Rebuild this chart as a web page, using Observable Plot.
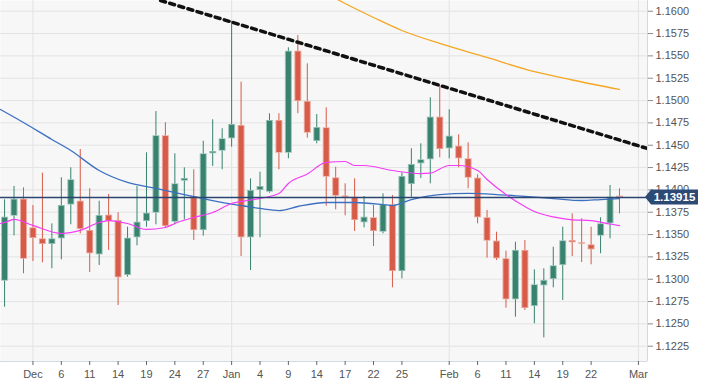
<!DOCTYPE html>
<html><head><meta charset="utf-8">
<script src="https://cdn.jsdelivr.net/npm/d3@7"></script>
<script src="https://cdn.jsdelivr.net/npm/@observablehq/plot@0.6"></script>
<style>
html,body{margin:0;padding:0;background:#fff;}
#chart{width:703px;height:388px;overflow:hidden;}
</style></head><body><div id="chart"></div>
<script>
// Trading days (EUR/USD daily candles)
const dates = [
 "2018-11-28","2018-11-29","2018-11-30","2018-12-03","2018-12-04","2018-12-05","2018-12-06","2018-12-07","2018-12-10","2018-12-11",
 "2018-12-12","2018-12-13","2018-12-14","2018-12-17","2018-12-18","2018-12-19","2018-12-20","2018-12-21","2018-12-24","2018-12-25",
 "2018-12-26","2018-12-27","2018-12-28","2018-12-31","2019-01-01","2019-01-02","2019-01-03","2019-01-04","2019-01-07","2019-01-08",
 "2019-01-09","2019-01-10","2019-01-11","2019-01-14","2019-01-15","2019-01-16","2019-01-17","2019-01-18","2019-01-21","2019-01-22",
 "2019-01-23","2019-01-24","2019-01-25","2019-01-28","2019-01-29","2019-01-30","2019-01-31","2019-02-01","2019-02-04","2019-02-05",
 "2019-02-06","2019-02-07","2019-02-08","2019-02-11","2019-02-12","2019-02-13","2019-02-14","2019-02-15","2019-02-18","2019-02-19",
 "2019-02-20","2019-02-21","2019-02-22","2019-02-25","2019-02-26","2019-02-27"];
const opens = [
 1.12978,1.13705,1.13895,1.13575,1.13452,1.13389,1.13452,1.13831,1.13873,1.13545,
 1.13273,1.13717,1.13657,1.13042,1.13464,1.13646,1.13739,1.14606,1.13638,1.14097,
 1.13926,1.13545,1.14404,1.14433,1.14572,1.14721,1.13464,1.13993,1.13974,1.14777,
 1.14410,1.15552,1.14989,1.14542,1.14695,1.14135,1.13932,1.13918,1.13632,1.13688,
 1.13526,1.13833,1.13086,1.14060,1.14292,1.14337,1.14814,1.14460,1.14489,1.14348,
 1.14131,1.13688,1.13426,1.13229,1.12770,1.13322,1.12695,1.12926,1.12997,1.13154,
 1.13433,1.13408,1.13385,1.13482,1.13620,1.13930];
const highs = [
 1.13889,1.14038,1.14023,1.13825,1.14187,1.13620,1.14135,1.14247,1.14452,1.14012,
 1.13873,1.13948,1.13744,1.13582,1.14038,1.14415,1.14877,1.14751,1.14404,1.14247,
 1.14225,1.14545,1.14785,1.14684,1.15888,1.15206,1.14124,1.14198,1.14852,1.14852,
 1.15590,1.15728,1.15411,1.14844,1.14919,1.14254,1.14068,1.14124,1.13926,1.13825,
 1.13956,1.13937,1.14191,1.14460,1.14516,1.15031,1.15168,1.14897,1.14617,1.14527,
 1.14169,1.13769,1.13526,1.13314,1.13414,1.13433,1.13105,1.13117,1.13358,1.13582,
 1.13732,1.13676,1.13582,1.13688,1.14049,1.14012];
const lows = [
 1.12687,1.13486,1.13061,1.13198,1.13184,1.13117,1.13217,1.13610,1.13508,1.13075,
 1.13154,1.13322,1.12706,1.13023,1.13374,1.13582,1.13609,1.13571,1.13609,1.13665,
 1.13433,1.13482,1.14262,1.14225,1.14478,1.13254,1.13098,1.13464,1.13963,1.14225,
 1.14348,1.14852,1.14579,1.14516,1.13817,1.13777,1.13710,1.13534,1.13575,1.13366,
 1.13508,1.12904,1.13005,1.13918,1.14128,1.14068,1.14359,1.14348,1.14247,1.14012,
 1.13620,1.13235,1.13210,1.12676,1.12575,1.12650,1.12501,1.12344,1.12904,1.12762,
 1.13254,1.13187,1.13161,1.13285,1.13452,1.13732];
const closes = [
 1.13694,1.13895,1.13224,1.13456,1.13389,1.13452,1.13825,1.14113,1.13557,1.13285,
 1.13713,1.13646,1.13016,1.13459,1.13638,1.13739,1.14606,1.13590,1.14068,1.14128,
 1.13545,1.14404,1.14430,1.14572,1.14732,1.13464,1.13993,1.14038,1.14777,1.14410,
 1.15552,1.14989,1.14635,1.14698,1.14142,1.13929,1.13917,1.13657,1.13694,1.13534,
 1.13833,1.13086,1.14150,1.14284,1.14337,1.14814,1.14452,1.14601,1.14348,1.14131,
 1.13688,1.13426,1.13229,1.12770,1.13322,1.12672,1.12938,1.12986,1.13150,1.13430,
 1.13408,1.13392,1.13329,1.13620,1.13918,1.13912];

// Moving averages (position in trading days, value)
const ma20Index  = [-0.43,0,1,3,6,8,10,11,13,15,17,18,20,22,24,26,29,30,32,34,36,37,38,41,44,45,47,48,50,51,53,55,56,58,60,62,64,65];
const ma20Values = [1.13624,1.13635,1.13669,1.13602,1.13512,1.13546,1.13635,1.13657,1.13624,1.13557,1.13579,1.13624,1.13691,1.13747,1.13848,1.13887,1.13959,1.14072,1.14178,1.14307,1.14318,1.14273,1.14273,1.14217,1.14183,1.14187,1.14273,1.14273,1.14217,1.14116,1.13948,1.13814,1.13758,1.13697,1.13665,1.13657,1.13618,1.13601];
const ma50Index  = [-0.43,2,5,7,10,13,16,19,22,25,27,29,31,34,37,40,41,43,46,49,52,55,58,61,63,65];
const ma50Values = [1.14900,1.14754,1.14564,1.14441,1.14217,1.14083,1.14016,1.13948,1.13881,1.13825,1.13792,1.13769,1.13814,1.13859,1.13859,1.13836,1.13825,1.13892,1.13948,1.13960,1.13948,1.13926,1.13903,1.13881,1.13892,1.13903];
const ma200Index  = [35,36,39,42,46,51,56,60,65];
const ma200Values = [1.16142,1.16086,1.15930,1.15784,1.15639,1.15482,1.15323,1.15230,1.15124];
const trendIndex  = [16.5,67.96];
const trendValues = [1.16120,1.14463];
const currentPrice = 1.13915;

const xTicks = [3,6,9,12,15,18,21,24,27,30,33,36,39,42,47,50,53,56,59,62,67];
const xTickLabels = ["Dec","6","11","14","19","24","27","Jan","4","9","14","17","22","25","Feb","6","11","14","19","22","Mar"];
const monthTicks = [3,24,47,67];
const yTicks = [1.1225,1.1250,1.1275,1.1300,1.1325,1.1350,1.1375,1.1400,1.1425,1.1450,1.1475,1.1500,1.1525,1.1550,1.1575,1.1600];

const xDomain = [-0.43, 67.96];
const yDomain = [1.12079, 1.16120];

const GREEN = "#38826f", RED = "#d65b48";
const GREEN_EDGE = "#9cc5b9", RED_EDGE = "#ecaa9f";

const candles = dates.map((d, i) => ({i, date: d, open: opens[i], high: highs[i], low: lows[i], close: closes[i]}));
const pts = (idx, vals) => idx.map((x, k) => ({x, v: vals[k]}));
const labelMap = new Map(xTicks.map((t, k) => [t, xTickLabels[k]]));
const up = d => d.close >= d.open;

const plot = Plot.plot({
  width: 703, height: 388,
  marginLeft: 0, marginRight: 56, marginTop: 0, marginBottom: 27,
  style: {fontFamily: "'Liberation Sans', Arial, Helvetica, sans-serif", fontSize: "11px", color: "#555", background: "#fff"},
  x: {type: "linear", domain: xDomain},
  y: {type: "linear", domain: yDomain},
  marks: [
    Plot.frame({fill: "#f7f7f7", stroke: "none"}),
    Plot.gridY(yTicks, {stroke: "#e3e3e3", strokeOpacity: 1}),
    Plot.gridX(monthTicks, {stroke: "#e3e3e3", strokeOpacity: 1}),
    Plot.ruleX([xDomain[1]], {stroke: "#d3d9e2"}),
    Plot.ruleY([yDomain[0]], {stroke: "#d3d9e2"}),
    Plot.axisY(yTicks, {anchor: "right", tickSize: 5, tickPadding: 3, tickFormat: d3.format(".4f"), stroke: "#8c8c8c", fill: "#555"}),
    Plot.axisX(xTicks, {anchor: "bottom", tickSize: 4, tickPadding: 5, tickFormat: d => labelMap.get(d), stroke: "#666", fill: "#555"}),
    // candles
    Plot.ruleX(candles, {x: "i", y1: "low", y2: "high", stroke: d => up(d) ? GREEN : RED, strokeWidth: 1}),
    Plot.ruleX(candles, {x: "i", y1: d => Math.max(d.open, d.close), y2: d => Math.min(d.open, d.close), stroke: d => up(d) ? GREEN_EDGE : RED_EDGE, strokeWidth: 7}),
    Plot.ruleX(candles, {x: "i", y1: d => Math.max(d.open, d.close), y2: d => Math.min(d.open, d.close), stroke: d => up(d) ? GREEN : RED, strokeWidth: 5, insetTop: 0.8, insetBottom: 0.8}),
    // overlays
    Plot.line(pts(ma200Index, ma200Values), {x: "x", y: "v", stroke: "#f5a623", strokeWidth: 1.3, curve: "monotone-x", clip: true}),
    Plot.line(pts(ma50Index, ma50Values), {x: "x", y: "v", stroke: "#3c6fc2", strokeWidth: 1.3, curve: "monotone-x", clip: true}),
    Plot.line(pts(ma20Index, ma20Values), {x: "x", y: "v", stroke: "#f53cf5", strokeWidth: 1.2, curve: "monotone-x", clip: true}),
    Plot.ruleY([currentPrice], {stroke: "#2a4670", strokeWidth: 1.5}),
    Plot.line(pts(trendIndex, trendValues), {x: "x", y: "v", stroke: "#111", strokeWidth: 3.5, strokeDasharray: "5,4.5", clip: true})
  ]
});

// current price label attached to the y scale
const ySc = plot.scale("y"), xSc = plot.scale("x");
const py = ySc.apply(currentPrice);
const x0 = xSc.range[1] - 2, x1 = 698, h = 15;
const g = d3.select(plot).append("g");
g.append("path")
  .attr("d", `M${x0},${py} L${x0 + 6},${py - h / 2} L${x1},${py - h / 2} L${x1},${py + h / 2} L${x0 + 6},${py + h / 2} Z`)
  .attr("fill", "#2c4a74");
g.append("text")
  .attr("x", (x0 + 6 + x1) / 2).attr("y", py).attr("dy", "0.36em")
  .attr("text-anchor", "middle").attr("fill", "#fff")
  .attr("font-weight", "bold").attr("font-size", 11.5)
  .text(d3.format(".5f")(currentPrice));

document.getElementById("chart").appendChild(plot);
</script></body></html>
